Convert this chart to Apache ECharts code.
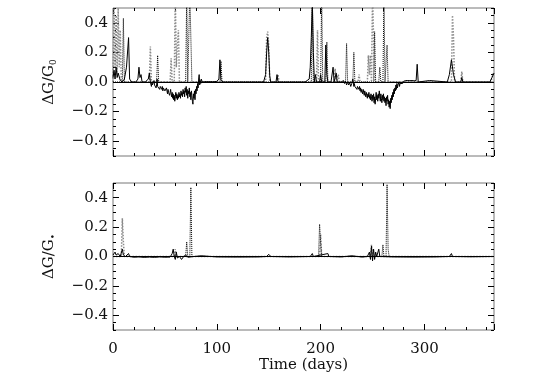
<!DOCTYPE html>
<html>
<head>
<meta charset="utf-8">
<script src="https://cdn.jsdelivr.net/npm/echarts@6/dist/echarts.min.js"></script>
<style>
  html, body { margin: 0; padding: 0; background: #fff; }
</style>
</head>
<body>
<div id="myChart" style="width:545px;height:390px;"></div>
<script>
// tick labels
const xTickLabels = [0, 100, 200, 300];
const yTickLabels = [-0.4, -0.2, 0, 0.2, 0.4];

// top panel (dG/G0): [day, value]
const topSolid = [
  [0, 0.03], [1, 0.08], [2, 0.02], [3, 0.1], [4, 0.03], [5, 0.06], [7, 0.01], [9, 0], [11, 0.02],
  [13, 0.1], [15, 0.3], [16, 0.02], [18, 0], [22, 0], [24, 0.02], [25, 0.1], [26, 0.03], [27, 0.05],
  [28, 0], [31, 0], [34, 0.02], [35, 0.06], [36, 0],
  [36.5, -0.01], [37, -0.03], [37.5, 0], [38, -0.02], [38.5, -0.01], [39, -0.03], [39.5, 0.01],
  [40, -0.02], [40.5, -0.03], [41, -0.01], [41.5, -0.04], [42, -0.02], [42.5, 0.02], [43, -0.03],
  [43.5, -0.02], [44, -0.04], [44.5, -0.02], [45, -0.05], [45.5, -0.03], [46, -0.04], [46.5, -0.02],
  [47, -0.05], [47.5, -0.03], [48, -0.06], [48.5, -0.04], [49, -0.05], [49.5, -0.03], [50, -0.06],
  [50.5, -0.05], [51, -0.07], [51.5, -0.04], [52, -0.06], [52.5, -0.08], [53, -0.05], [53.5, -0.07],
  [54, -0.06], [54.5, -0.09], [55, -0.07], [55.5, -0.05], [56, -0.08], [56.5, -0.1], [57, -0.07],
  [57.5, -0.11], [58, -0.08], [58.5, -0.12], [59, -0.09], [59.5, -0.13], [60, -0.1], [60.5, -0.07],
  [61, -0.11], [61.5, -0.08], [62, -0.12], [62.5, -0.09], [63, -0.11], [63.5, -0.07], [64, -0.1],
  [64.5, -0.08], [65, -0.11], [65.5, -0.06], [66, -0.09], [66.5, -0.07], [67, -0.1], [67.5, -0.05],
  [68, -0.08], [68.5, -0.06], [69, -0.1], [69.5, -0.04], [70, -0.07], [70.5, -0.03], [71, -0.09],
  [71.5, -0.05], [72, -0.11], [72.5, -0.06], [73, -0.08], [73.5, -0.04], [74, -0.1], [74.5, -0.07],
  [75, -0.12], [75.5, -0.06], [76, -0.09], [76.5, -0.13], [77, -0.15], [77.5, -0.08], [78, -0.11],
  [78.5, -0.06], [79, -0.12], [79.5, -0.05], [80, -0.08], [80.5, -0.03], [81, -0.06], [81.5, -0.01],
  [82, -0.04], [82.5, 0.02], [83, 0.05], [83.5, -0.02], [84, 0.01], [84.5, -0.01], [85, 0.02],
  [86, 0], [87, 0.012], [88, 0.002], [89, 0.013], [90, 0.003], [91, 0.012], [92, 0.002], [93, 0.011],
  [94, 0.003], [95, 0.012], [96, 0.002], [97, 0.01], [98, 0.003], [99, 0.012], [100, 0.004],
  [102, 0.02], [103, 0.15], [104, 0.01], [106, 0], [145, 0], [147, 0.05], [148, 0.2], [149, 0.3],
  [150, 0.2], [151, 0.04], [152, 0], [157, 0], [158, 0.05], [159, 0], [185, 0], [189, 0.02],
  [190, 0.1], [191, 0.3], [192, 0.55], [193, 0.2], [194, 0], [195, 0.05], [196, 0], [199, 0],
  [200, 0.05], [201, 0], [204, 0], [205, 0.25], [206, 0.05], [207, 0], [210, 0], [212, 0.1], [213, 0],
  [215, 0.06], [216, 0], [220, 0], [222, 0.01], [223, -0.01], [224, 0.005], [225, -0.02],
  [226, 0], [227, -0.02], [228, -0.005], [229, -0.03], [230, -0.01], [231, 0.02], [232, -0.03],
  [232.5, -0.01], [233, -0.03], [233.5, -0.02], [234, -0.04], [234.5, -0.02], [235, -0.05],
  [235.5, -0.03], [236, -0.04], [236.5, -0.02], [237, -0.05], [237.5, -0.03], [238, -0.06],
  [238.5, -0.04], [239, -0.07], [239.5, -0.05], [240, -0.06], [240.5, -0.08], [241, -0.05],
  [241.5, -0.07], [242, -0.09], [242.5, -0.06], [243, -0.08], [243.5, -0.1], [244, -0.07],
  [244.5, -0.09], [245, -0.11], [245.5, -0.08], [246, -0.1], [246.5, -0.07], [247, -0.11],
  [247.5, -0.09], [248, -0.12], [248.5, -0.08], [249, -0.1], [249.5, -0.13], [250, -0.09],
  [250.5, -0.12], [251, -0.08], [251.5, -0.14], [252, -0.1], [252.5, -0.15], [253, -0.11],
  [253.5, -0.07], [254, -0.12], [254.5, -0.09], [255, -0.13], [255.5, -0.08], [256, -0.11],
  [256.5, -0.06], [257, -0.1], [257.5, -0.13], [258, -0.08], [258.5, -0.11], [259, -0.14],
  [259.5, -0.09], [260, -0.12], [260.5, -0.08], [261, -0.13], [261.5, -0.1], [262, -0.14],
  [262.5, -0.11], [263, -0.16], [263.5, -0.1], [264, -0.13], [264.5, -0.09], [265, -0.15],
  [265.5, -0.12], [266, -0.17], [266.5, -0.13], [267, -0.18], [267.5, -0.11], [268, -0.14],
  [268.5, -0.09], [269, -0.12], [269.5, -0.07], [270, -0.1], [270.5, -0.05], [271, -0.08],
  [271.5, -0.04], [272, -0.06], [272.5, -0.02], [273, -0.05], [273.5, -0.01], [274, -0.04],
  [274.5, -0.02], [275, -0.03], [275.5, 0], [276, -0.03], [276.5, -0.01], [277, -0.02],
  [278, 0], [279, -0.01], [280, 0.005], [281, 0], [282, 0.01], [283, 0.003], [284, 0.01],
  [285, 0.002], [286, 0.009], [287, 0.002], [288, 0.01], [289, 0.003], [290, 0.008], [291, 0.002],
  [292, 0.01], [293, 0.12], [294, 0], [305, 0.01], [306, 0], [322, 0], [324, 0.05],
  [326, 0.15], [328, 0.05], [330, 0], [335, 0], [336, 0.03], [337, 0], [363, 0], [365, 0.03], [367, 0.06]
];
const topDotted = [
  [0, 0], [9, 0], [10, 0.43], [11, 0], [42, 0], [43, 0.18], [44, 0], [70, 0], [71, 0.6], [72, 0],
  [73, 0], [74, 0.6], [75, 0.3], [76, 0], [103, 0], [104, 0.14], [105, 0], [191, 0], [192, 0.6],
  [193, 0], [200, 0], [201, 0.6], [202, 0], [205, 0], [206, 0.27], [207, 0], [224, 0], [225, 0.26],
  [226, 0], [231, 0], [232, 0.2], [233, 0], [251, 0], [252, 0.34], [253, 0], [256, 0], [257, 0.1],
  [258, 0], [260, 0], [261, 0.6], [262, 0], [263, 0], [264, 0.25], [265, 0], [367, 0]
];
const topGray = [
  [0, 0], [1, 0.5], [2, 0.1], [3, 0.45], [4, 0.05], [5, 0.5], [6, 0.1], [7, 0.35], [8, 0],
  [35, 0], [36, 0.24], [37, 0], [55, 0], [56, 0.16], [57, 0], [59, 0], [60, 0.6], [61, 0.1],
  [62, 0.25], [63, 0.35], [64, 0], [147, 0], [148, 0.3], [149, 0.34], [150, 0.25], [151, 0],
  [158, 0], [159, 0.05], [160, 0], [196, 0], [197, 0.35], [198, 0], [213, 0], [214, 0.09], [215, 0],
  [216, 0], [217, 0.05], [218, 0], [236, 0], [237, 0.05], [238, 0], [245, 0], [246, 0.18], [247, 0.05],
  [248, 0.18], [249, 0], [250, 0.6], [251, 0.3], [252, 0], [326, 0], [327, 0.45], [328, 0.3],
  [329, 0], [335, 0], [336, 0.07], [337, 0], [364, 0], [366, 0.05], [367, 0.07]
];

// bottom panel (dG/G*): [day, value]
const botSolid = [
  [0, 0.01], [2, 0.03], [3, 0.01], [5, 0.02], [7, 0], [9, 0.05], [10, 0.01], [12, 0], [15, 0.02],
  [16, 0], [20, -0.005], [25, -0.003], [30, -0.006], [35, -0.004], [40, -0.006], [45, -0.003],
  [50, -0.005], [55, -0.004], [57, 0.02], [58, 0.05], [59, 0], [60, -0.02], [61, 0.03], [62, -0.01],
  [64, 0], [66, -0.02], [68, 0], [70, 0.01], [72, -0.005], [78, 0], [85, 0.005], [100, -0.003],
  [120, -0.004], [140, -0.003], [148, 0], [150, 0.015], [152, 0], [170, -0.003], [190, 0],
  [192, 0.02], [193, 0], [207, 0.02], [208, 0], [220, -0.003], [230, 0.005], [240, -0.004],
  [245, 0], [247, 0.03], [248, -0.02], [249, 0.07], [250, -0.03], [251, 0.05], [252, -0.02],
  [253, 0.03], [254, 0], [256, 0.05], [257, 0], [270, -0.003], [290, -0.004], [310, -0.003],
  [324, 0], [326, 0.02], [327, 0], [345, -0.002], [367, 0]
];
const botDotted = [
  [0, 0], [70, 0], [71, 0.1], [72, 0], [74, 0], [75, 0.47], [76, 0], [198, 0], [199, 0.22],
  [200, 0.1], [201, 0], [259, 0], [260, 0.08], [261, 0], [263, 0], [264, 0.49], [265, 0.05],
  [266, 0], [367, 0]
];
const botGray = [
  [0, 0], [8, 0], [9, 0.26], [10, 0.1], [11, 0], [59, 0], [60, 0.05], [61, 0], [199, 0],
  [200, 0.15], [201, 0], [248, 0], [249, 0.08], [250, 0], [367, 0]
];

const FONT = 'DejaVu Serif';
const tickLine = { color: '#000', width: 1 };

function fmtY(v) {
  const s = Math.abs(v).toFixed(1);
  return v < -1e-9 ? '\u2212' + s : s;
}

// two axes per side: long major ticks and short minor ticks
function xAxesFor(g, withLabels) {
  const base = {
    gridIndex: g, type: 'value', min: 0, max: 367,
    axisLine: { show: false, onZero: false }, splitLine: { show: false }
  };
  return [
    Object.assign({}, base, {
      position: 'bottom', interval: 100,
      axisTick: { inside: true, length: 6, lineStyle: tickLine },
      axisLabel: withLabels ? {
        show: true, margin: 12, fontFamily: FONT, fontSize: 15, color: '#111',
        formatter: v => (xTickLabels.indexOf(v) >= 0 ? String(v) : '')
      } : { show: false },
      name: withLabels ? 'Time (days)' : '',
      nameLocation: 'middle', nameGap: 25,
      nameTextStyle: { fontFamily: FONT, fontSize: 15, color: '#111' }
    }),
    Object.assign({}, base, { position: 'bottom', interval: 20,
      axisTick: { inside: true, length: 3, lineStyle: tickLine }, axisLabel: { show: false } }),
    Object.assign({}, base, { position: 'top', interval: 100,
      axisTick: { inside: true, length: 6, lineStyle: tickLine }, axisLabel: { show: false } }),
    Object.assign({}, base, { position: 'top', interval: 20,
      axisTick: { inside: true, length: 3, lineStyle: tickLine }, axisLabel: { show: false } })
  ];
}

function yAxesFor(g, sub) {
  const base = {
    gridIndex: g, type: 'value', min: -0.5, max: 0.5,
    axisLine: { show: false, onZero: false }, splitLine: { show: false }
  };
  return [
    Object.assign({}, base, {
      position: 'left', interval: 0.1,
      axisTick: { inside: true, length: 6, lineStyle: tickLine, customValues: yTickLabels },
      axisLabel: { margin: 5, fontFamily: FONT, fontSize: 15, color: '#111',
        customValues: yTickLabels, formatter: fmtY },
      name: '{a|\u0394G/G}{s|' + sub + '}',
      nameLocation: 'middle', nameGap: 55, nameRotate: 90,
      nameTextStyle: {
        fontFamily: FONT, fontSize: 15, color: '#111',
        rich: {
          a: { fontFamily: FONT, fontSize: 15, color: '#111' },
          s: { fontFamily: FONT, fontSize: 9, color: '#111', padding: [8, 0, 0, 0] }
        }
      }
    }),
    Object.assign({}, base, { position: 'left', interval: 0.05,
      axisTick: { inside: true, length: 3, lineStyle: tickLine }, axisLabel: { show: false } }),
    Object.assign({}, base, { position: 'right', interval: 0.1,
      axisTick: { inside: true, length: 6, lineStyle: tickLine, customValues: yTickLabels },
      axisLabel: { show: false } }),
    Object.assign({}, base, { position: 'right', interval: 0.05,
      axisTick: { inside: true, length: 3, lineStyle: tickLine }, axisLabel: { show: false } })
  ];
}

function lineSeries(axisIdx, data, color, type, width, zeroLine) {
  const s = {
    type: 'line', xAxisIndex: axisIdx, yAxisIndex: axisIdx, data: data,
    symbol: 'none', clip: true, silent: true,
    lineStyle: { color: color, width: width, type: type }
  };
  if (zeroLine) {
    s.markLine = {
      silent: true, symbol: 'none', label: { show: false },
      lineStyle: { color: '#000', width: 1, type: 'solid' },
      data: [{ yAxis: 0 }]
    };
  }
  return s;
}

let myChart = echarts.init(document.getElementById('myChart'));
myChart.setOption({
  animation: false,
  backgroundColor: '#fff',
  grid: [
    { left: 113, top: 8, width: 381, height: 148, show: true, borderColor: '#777', borderWidth: 1, backgroundColor: 'transparent' },
    { left: 113, top: 183, width: 381, height: 147, show: true, borderColor: '#777', borderWidth: 1, backgroundColor: 'transparent' }
  ],
  xAxis: xAxesFor(0, false).concat(xAxesFor(1, true)),
  yAxis: yAxesFor(0, '0').concat(yAxesFor(1, '\u2022')),
  series: [
    lineSeries(0, topGray, '#8a8a8a', 'dotted', 1.5, false),
    lineSeries(0, topDotted, '#000', 'dotted', 1, false),
    lineSeries(0, topSolid, '#000', 'solid', 1, true),
    lineSeries(4, botGray, '#8a8a8a', 'dotted', 1.5, false),
    lineSeries(4, botDotted, '#000', 'dotted', 1, false),
    lineSeries(4, botSolid, '#000', 'solid', 1, true)
  ]
});
window.onresize = function () {
  myChart.resize();
};
</script>
</body>
</html>
